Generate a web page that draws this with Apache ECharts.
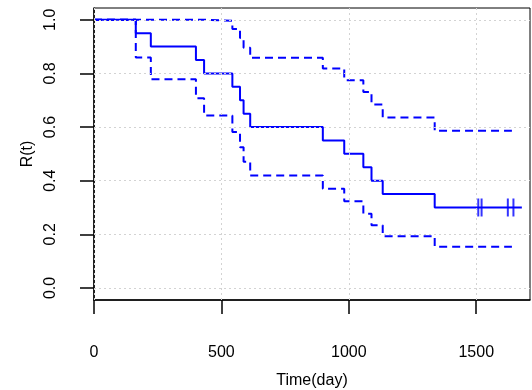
<!DOCTYPE html>
<html>
<head>
<meta charset="utf-8">
<script src="https://cdn.jsdelivr.net/npm/echarts@6/dist/echarts.min.js"></script>
<style>html,body{margin:0;padding:0;background:#fff;}#c{width:532px;height:390px;}</style>
</head>
<body>
<div id="c"></div>
<script>
// Event times (day) and step values
const eventTimes = [0, 164, 223, 400, 432, 543, 573, 587, 613, 898, 982, 1057, 1089, 1133, 1337];
const survival   = [1.0, 0.95, 0.90, 0.85, 0.80, 0.75, 0.70, 0.65, 0.60, 0.55, 0.50, 0.45, 0.40, 0.35, 0.30];
const upperCI    = [1.0, 1.0, 1.0, 1.0, 0.996, 0.966, 0.932, 0.896, 0.858, 0.818, 0.775, 0.731, 0.684, 0.636, 0.586];
const lowerCI    = [1.0, 0.859, 0.778, 0.707, 0.643, 0.582, 0.525, 0.471, 0.419, 0.370, 0.323, 0.277, 0.234, 0.193, 0.154];
const survivalEnd = 1679;
const ciEnd = 1640;
const censorTimes = [1508, 1521, 1624, 1646];
const censorValue = 0.30;
const xTicks = [0, 500, 1000, 1500];
const yTicks = [0.0, 0.2, 0.4, 0.6, 0.8, 1.0];

function steps(times, vals, endT) {
  const d = times.map((t, i) => [t, vals[i]]);
  d.push([endT, vals[vals.length - 1]]);
  return d;
}

const FONT = '"Liberation Sans", Arial, sans-serif';
const chart = echarts.init(document.getElementById('c'), null, {renderer: 'canvas'});
chart.setOption({
  animation: false,
  backgroundColor: '#fff',
  grid: {left: 94, right: 2, top: 8, bottom: 90, containLabel: false, outerBoundsMode: 'none',
    show: true, borderColor: '#000', borderWidth: 1, backgroundColor: 'transparent'},
  xAxis: {
    type: 'value', min: 0, max: 1711,
    name: 'Time(day)', nameLocation: 'middle', nameGap: 73,
    nameTextStyle: {fontFamily: FONT, fontSize: 16, color: '#000'},
    axisLine: {show: true, onZero: false, lineStyle: {color: '#000', width: 1.5}},
    axisTick: {show: true, length: 14, customValues: xTicks, lineStyle: {color: '#000', width: 1.5}},
    axisLabel: {customValues: xTicks, margin: 45, fontFamily: FONT, fontSize: 16, color: '#000',
      formatter: v => String(v)},
    splitLine: {show: false}
  },
  yAxis: {
    type: 'value', min: -0.045, max: 1.044,
    name: 'R(t)', nameLocation: 'middle', nameGap: 57, nameRotate: 90,
    nameTextStyle: {fontFamily: FONT, fontSize: 16, color: '#000'},
    axisLine: {show: true, onZero: false, lineStyle: {color: '#000', width: 1.5}},
    axisTick: {show: true, length: 14, customValues: yTicks, lineStyle: {color: '#000', width: 1.5}},
    axisLabel: {customValues: yTicks, rotate: 90, align: 'center', verticalAlign: 'middle', margin: 43,
      fontFamily: FONT, fontSize: 16, color: '#000', formatter: v => v.toFixed(1)},
    splitLine: {show: false}
  },
  series: [
    {
      name: 'upper', type: 'line', step: 'end', showSymbol: false, symbol: 'none',
      data: steps(eventTimes, upperCI, ciEnd),
      lineStyle: {color: '#0000ff', width: 2, type: [8, 5]}, z: 2
    },
    {
      name: 'lower', type: 'line', step: 'end', showSymbol: false, symbol: 'none',
      data: steps(eventTimes, lowerCI, ciEnd),
      lineStyle: {color: '#0000ff', width: 2, type: [8, 5]}, z: 2
    },
    {
      name: 'survival', type: 'line', step: 'end', showSymbol: false, symbol: 'none',
      data: steps(eventTimes, survival, survivalEnd),
      lineStyle: {color: '#0000ff', width: 2}, z: 3
    },
    {
      name: 'censored', type: 'scatter', symbol: 'rect', symbolSize: [2, 18],
      data: censorTimes.map(t => [t, censorValue]),
      itemStyle: {color: '#0000ff'}, z: 4
    },
    {
      name: 'grid', type: 'line', data: [], z: 10, silent: true,
      markLine: {
        silent: true, symbol: ['none', 'none'], label: {show: false}, animation: false,
        lineStyle: {color: '#d3d3d3', type: [2, 3], width: 1},
        emphasis: {disabled: true},
        data: xTicks.map(v => ({xAxis: v})).concat(yTicks.map(v => ({yAxis: v})))
      }
    }
  ]
});
</script>
</body>
</html>
